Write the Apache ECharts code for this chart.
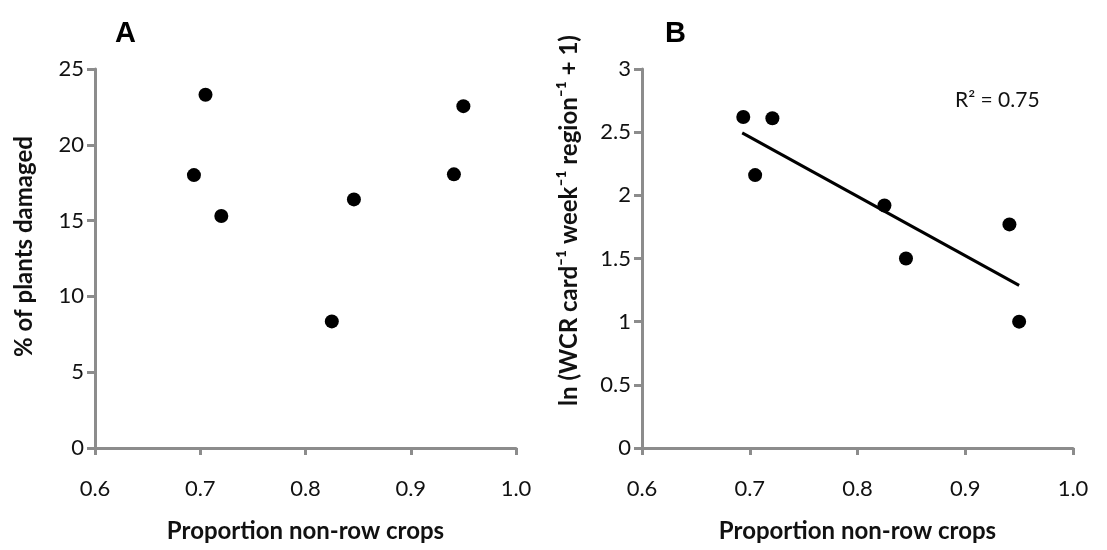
<!DOCTYPE html>
<html><head><meta charset="utf-8">
<script src="https://cdn.jsdelivr.net/npm/echarts@6/dist/echarts.min.js"></script>
<style>html,body{margin:0;padding:0;background:#fff}#c{width:1107px;height:550px}</style>
</head><body><div id="c"></div>
<script>
// Panel A data
const xA = [0.694, 0.705, 0.720, 0.825, 0.846, 0.941, 0.950];
const yA = [18.0, 23.3, 15.3, 8.35, 16.4, 18.05, 22.55];
// Panel B data
const xB = [0.694, 0.705, 0.721, 0.825, 0.845, 0.941, 0.950];
const yB = [2.62, 2.16, 2.61, 1.92, 1.50, 1.77, 1.00];
// Regression line endpoints (panel B)
const trendX = [0.693, 0.950];
const trendY = [2.494, 1.287];
const xTicks = [0.6, 0.7, 0.8, 0.9, 1.0];
const r2Label = 'R² = 0.75';

const FONT = 'Lato, "Open Sans", sans-serif';
const AX = '#8c8c8c';

function xAxis(gi){
  return {
    gridIndex: gi, type:'value', min:0.6, max:1.0, interval:0.1,
    name:'Proportion non-row crops', nameLocation:'middle', nameGap:71,
    nameTextStyle:{fontFamily:FONT, fontWeight:'bold', fontSize:24, color:'#111'},
    axisLine:{lineStyle:{color:AX, width:3}},
    axisTick:{show:true, length:7, lineStyle:{color:AX, width:3}},
    axisLabel:{margin:30, fontFamily:FONT, fontSize:22, color:'#111', formatter:v=>v.toFixed(1)},
    splitLine:{show:false}
  };
}
function yAxis(gi, max, interval, name, gap, shift){
  return {
    gridIndex: gi, type:'value', min:0, max:max, interval:interval,
    name:name, nameLocation:'middle', nameGap:gap, nameRotate:90,
    nameTextStyle:{fontFamily:FONT, fontWeight:'bold', fontSize:24, color:'#111', padding:[0,0,0,shift]},
    axisLine:{show:true, lineStyle:{color:AX, width:3}},
    axisTick:{show:true, length:8, lineStyle:{color:AX, width:3}},
    axisLabel:{margin:11, fontFamily:FONT, fontSize:22, color:'#111'},
    splitLine:{show:false}
  };
}

const chart = echarts.init(document.getElementById('c'), null, {renderer:'canvas'});
chart.setOption({
  backgroundColor:'#ffffff',
  animation:false,
  title:[
    {text:'A', left:110, top:14, textStyle:{fontFamily:'"Liberation Sans", Arial, sans-serif', fontWeight:'bold', fontSize:29, color:'#000'}},
    {text:'B', left:660, top:14, textStyle:{fontFamily:'"Liberation Sans", Arial, sans-serif', fontWeight:'bold', fontSize:29, color:'#000'}}
  ],
  grid:[
    {left:95, right:591, top:69, bottom:102},
    {left:642, right:34, top:69, bottom:102}
  ],
  xAxis:[xAxis(0), xAxis(1)],
  yAxis:[
    yAxis(0, 25, 5, '% of plants damaged', 59, 24),
    yAxis(1, 3, 0.5, 'ln (WCR card⁻¹ week⁻¹ region⁻¹ + 1)', 61, 76)
  ],
  graphic:[
    {type:'text', left:955, top:90, style:{text:r2Label, font:'21px Lato, "Open Sans", sans-serif', fill:'#111'}}
  ],
  series:[
    {type:'scatter', xAxisIndex:0, yAxisIndex:0, symbolSize:14, itemStyle:{color:'#000', opacity:1},
     data:xA.map((x,i)=>[x,yA[i]])},
    {type:'scatter', xAxisIndex:1, yAxisIndex:1, symbolSize:14, itemStyle:{color:'#000', opacity:1},
     data:xB.map((x,i)=>[x,yB[i]])},
    {type:'line', xAxisIndex:1, yAxisIndex:1, symbol:'none', lineStyle:{color:'#000', width:3},
     data:trendX.map((x,i)=>[x,trendY[i]])}
  ]
});
</script></body></html>
